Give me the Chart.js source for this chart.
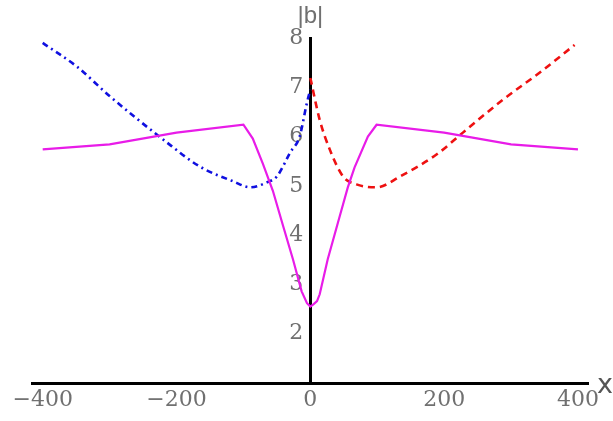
<!DOCTYPE html>
<html>
<head>
<meta charset="utf-8">
<script src="https://cdn.jsdelivr.net/npm/chart.js@4/dist/chart.umd.min.js"></script>
<style>
  html, body { margin:0; padding:0; background:#fff; }
  #wrap { width:613px; height:421px; position:relative; }
</style>
</head>
<body>
<div id="wrap"><canvas id="chart"></canvas></div>
<script>
// tick labels
var xTicks = [-400, -200, 0, 200, 400];
var yTicks = [2, 3, 4, 5, 6, 7, 8];

// magenta solid curve
var magX = [-400, -300, -200, -100, -86, -71, -56, -41, -26, -13, -5, 0, 5, 10, 14, 26, 41, 56, 66, 86, 99, 200, 300, 400];
var magY = [5.74, 5.84, 6.08, 6.24, 5.96, 5.45, 4.9, 4.2, 3.51, 2.86, 2.62, 2.55, 2.6, 2.66, 2.8, 3.51, 4.24, 4.97, 5.37, 6.0, 6.24, 6.08, 5.84, 5.74];

// blue dash-dot curve (left half)
var blueX = [-400, -349, -299, -220, -165, -115, -90, -65, -50, -30, -16, -5, 0];
var blueY = [7.9, 7.42, 6.81, 5.94, 5.39, 5.09, 4.97, 5.07, 5.19, 5.68, 6.0, 6.69, 6.95];

// red dashed curve (right half)
var redX = [0, 14, 29, 49, 69, 99, 134, 189, 228, 288, 343, 395];
var redY = [7.19, 6.34, 5.74, 5.19, 5.03, 4.97, 5.19, 5.64, 6.08, 6.75, 7.3, 7.86];

function pts(xs, ys){
  var out = [];
  for (var i=0;i<xs.length;i++) out.push({x: xs[i], y: ys[i]});
  return out;
}

var tickFont = { family: '"DejaVu Serif", "Liberation Serif", serif', size: 22 };
var tickColor = '#707070';

// axis names |b| and x, placed from the scales
var axisNames = {
  id: 'axisNames',
  afterDraw: function(chart){
    var c = chart.ctx, xs = chart.scales.x, ys = chart.scales.y;
    var x0 = xs.getPixelForValue(0);
    c.save();
    c.fillStyle = '#707070';
    c.font = '24px "Liberation Sans", "DejaVu Sans", sans-serif';
    c.textAlign = 'center';
    c.textBaseline = 'bottom';
    c.fillText('|b|', x0, ys.getPixelForValue(8) - 10);
    c.fillStyle = '#555';
    c.font = '27px "DejaVu Sans", sans-serif';
    c.textAlign = 'left';
    c.textBaseline = 'middle';
    c.fillText('x', xs.right + 9, ys.getPixelForValue(1) + 3);
    c.restore();
  }
};

var ctx = document.getElementById('chart');
new Chart(ctx, {
  type: 'line',
  data: {
    datasets: [
      { label: 'magenta', data: pts(magX, magY), borderColor: '#e81ce8', borderWidth: 2.2,
        pointRadius: 0, tension: 0, fill: false },
      { label: 'blue', data: pts(blueX, blueY), borderColor: '#1010e0', borderWidth: 2.6,
        borderDash: [6, 4, 2, 4], pointRadius: 0, cubicInterpolationMode: 'monotone', fill: false },
      { label: 'red', data: pts(redX, redY), borderColor: '#ee1111', borderWidth: 2.6,
        borderDash: [7, 5], pointRadius: 0, cubicInterpolationMode: 'monotone', fill: false }
    ]
  },
  options: {
    responsive: true,
    maintainAspectRatio: false,
    animation: false,
    layout: { padding: { left: 32, right: 25, top: 38, bottom: 38 } },
    plugins: { legend: { display: false }, tooltip: { enabled: false } },
    scales: {
      x: {
        type: 'linear', min: -416, max: 415,
        position: { y: 1 },
        afterBuildTicks: function(s){ s.ticks = xTicks.map(function(v){ return {value: v}; }); },
        grid: { display: true, drawOnChartArea: false, drawTicks: false, color: '#000' },
        border: { display: true, color: '#000', width: 3 },
        ticks: { font: tickFont, color: tickColor, padding: 4, maxRotation: 0,
          callback: function(v){ return v < 0 ? '\u2212' + Math.abs(v) : String(v); } }
      },
      y: {
        type: 'linear', min: 1, max: 8,
        position: { x: 0 },
        afterBuildTicks: function(s){ s.ticks = yTicks.map(function(v){ return {value: v}; }); },
        grid: { display: true, drawOnChartArea: false, drawTicks: false, color: '#000' },
        border: { display: true, color: '#000', width: 3 },
        ticks: { font: tickFont, color: tickColor, padding: 6,
          callback: function(v){ return String(v) + ' '; } }
      }
    }
  },
  plugins: [axisNames]
});
</script>
</body>
</html>
